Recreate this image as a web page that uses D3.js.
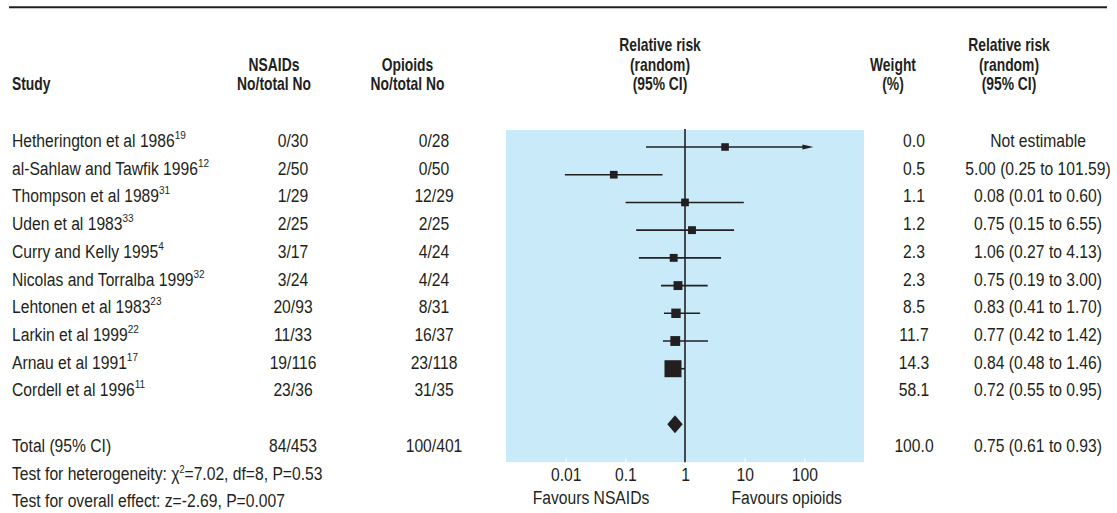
<!DOCTYPE html>
<html>
<head>
<meta charset="utf-8">
<script src="https://cdn.jsdelivr.net/npm/d3@7"></script>
<style>
  html, body { margin: 0; padding: 0; background: #fff; }
  svg text { font-family: 'Liberation Sans', Arial, sans-serif; fill: #231f20; }
</style>
</head>
<body>
<svg id="chart" width="1117" height="513"></svg>
<script>
// ---------- DATA ----------
const studies = [
  'Hetherington et al 1986', 'al-Sahlaw and Tawfik 1996', 'Thompson et al 1989',
  'Uden et al 1983', 'Curry and Kelly 1995', 'Nicolas and Torralba 1999',
  'Lehtonen et al 1983', 'Larkin et al 1999', 'Arnau et al 1991', 'Cordell et al 1996'
];
const refs = ['19', '12', '31', '33', '4', '32', '23', '22', '17', '11'];
const nsaids = ['0/30', '2/50', '1/29', '2/25', '3/17', '3/24', '20/93', '11/33', '19/116', '23/36'];
const opioids = ['0/28', '0/50', '12/29', '2/25', '4/24', '4/24', '8/31', '16/37', '23/118', '31/35'];
const weights = [0.0, 0.5, 1.1, 1.2, 2.3, 2.3, 8.5, 11.7, 14.3, 58.1];
const rrText = [
  'Not estimable', '5.00 (0.25 to 101.59)', '0.08 (0.01 to 0.60)', '0.75 (0.15 to 6.55)',
  '1.06 (0.27 to 4.13)', '0.75 (0.19 to 3.00)', '0.83 (0.41 to 1.70)', '0.77 (0.42 to 1.42)',
  '0.84 (0.48 to 1.46)', '0.72 (0.55 to 0.95)'
];
// values as drawn in the figure (the plot sits one row above its table line)
const plotEst = [null, 4.69, 0.064, 1.0, 1.31, 0.646, 0.763, 0.706, 0.687, 0.629];
const plotLo = [null, 0.222, 0.0097, 0.101, 0.152, 0.169, 0.396, 0.444, 0.427, 0.55];
const plotHi = [null, 142, 0.42, 9.66, 6.64, 4.02, 2.40, 1.79, 2.43, 1.0];

const totalLabel = 'Total (95% CI)';
const totalNsaids = '84/453';
const totalOpioids = '100/401';
const totalWeight = 100.0;
const totalText = '0.75 (0.61 to 0.93)';
const totalEst = 0.68, totalLo = 0.505, totalHi = 0.915;

const tickValues = [0.01, 0.1, 1, 10, 100];
const tickLabels = ['0.01', '0.1', '1', '10', '100'];

// ---------- LAYOUT ----------
const svg = d3.select('#chart');
const ink = '#231f20';
const BODY = 18, BODY_SX = 0.87;   // condensed look via horizontal squeeze
const HEAD = 18, HEAD_SX = 0.77;

const x = d3.scaleLog().domain([0.001, 1000]).range([506, 864]);
const y = d3.scaleLinear().domain([0, 13]).range([147, 507.3]);
const boxSize = d3.scaleLinear().domain([0, 58.1]).range([7.5, 17]);

const col = { study: 12, nsaids: 293, opioids: 434, weight: 914, rr: 1038 };
const head = { nsaids: 274, opioids: 407.5, plot: 660, weight: 893, rr: 1009 };

// condensed text helper: returns the <text> node
function label(px, py, str, opt = {}) {
  const g = svg.append('g')
    .attr('transform', `translate(${px},${py}) scale(${opt.sx || BODY_SX},1)`);
  return g.append('text')
    .attr('text-anchor', opt.anchor || 'start')
    .attr('font-size', opt.size || BODY)
    .attr('font-weight', opt.bold ? 'bold' : null)
    .attr('fill', opt.fill || ink)
    .text(str);
}

// top rule
svg.append('line')
  .attr('x1', 9).attr('x2', 1107).attr('y1', 7.3).attr('y2', 7.3)
  .attr('stroke', ink).attr('stroke-width', 2);

// ---------- HEADERS ----------
const headLines = [
  { x: col.study, anchor: 'start', lines: ['', '', 'Study'] },
  { x: head.nsaids, anchor: 'middle', lines: ['', 'NSAIDs', 'No/total No'] },
  { x: head.opioids, anchor: 'middle', lines: ['', 'Opioids', 'No/total No'] },
  { x: head.plot, anchor: 'middle', lines: ['Relative risk', '(random)', '(95% CI)'] },
  { x: head.weight, anchor: 'middle', lines: ['', 'Weight', '(%)'] },
  { x: head.rr, anchor: 'middle', lines: ['Relative risk', '(random)', '(95% CI)'] }
];
const headBase = [50.5, 70.5, 90];
headLines.forEach((h) => {
  h.lines.forEach((t, i) => {
    if (!t) return;
    label(h.x, headBase[i], t, { anchor: h.anchor, bold: true, size: HEAD, sx: HEAD_SX });
  });
});

// ---------- PLOT BACKGROUND ----------
const plotTop = y(0) - 17;
const plotBottom = y(11) + 10.3;
svg.append('rect')
  .attr('x', x.range()[0]).attr('y', plotTop)
  .attr('width', x.range()[1] - x.range()[0])
  .attr('height', plotBottom - plotTop)
  .attr('fill', '#c8eaf9');

// axis
const axis = svg.append('g')
  .attr('transform', `translate(0,${plotBottom})`)
  .call(d3.axisBottom(x).tickValues(tickValues)
    .tickFormat((d, i) => tickLabels[i])
    .tickSize(-4).tickPadding(6));
axis.select('.domain').remove();
axis.selectAll('.tick line').attr('stroke', '#fff').attr('stroke-width', 1.2);
axis.selectAll('.tick text')
  .attr('font-size', BODY)
  .attr('transform', `scale(${BODY_SX},1)`)
  .style('font-family', "'Liberation Sans', Arial, sans-serif")
  .attr('fill', '#333');

label(591, 503.5, 'Favours NSAIDs', { anchor: 'middle', fill: '#333' });
label(786.7, 503.5, 'Favours opioids', { anchor: 'middle', fill: '#333' });

// ---------- TABLE ----------
studies.forEach((name, i) => {
  const t = label(col.study, y(i), name);
  t.append('tspan').attr('font-size', 11.5).attr('dy', -8).text(refs[i]);
  label(col.nsaids, y(i), nsaids[i], { anchor: 'middle' });
  label(col.opioids, y(i), opioids[i], { anchor: 'middle' });
  label(col.weight, y(i), weights[i].toFixed(1), { anchor: 'middle' });
  label(col.rr, y(i), rrText[i], { anchor: 'middle' });
});

// total row
const totalRow = 11;
label(col.study, y(totalRow), totalLabel);
label(col.nsaids, y(totalRow), totalNsaids, { anchor: 'middle' });
label(col.opioids, y(totalRow), totalOpioids, { anchor: 'middle' });
label(col.weight, y(totalRow), totalWeight.toFixed(1), { anchor: 'middle' });
label(col.rr, y(totalRow), totalText, { anchor: 'middle' });

// tests
const het = label(col.study, y(12), 'Test for heterogeneity: χ');
het.append('tspan').attr('font-size', 10.5).attr('dy', -7).text('2');
het.append('tspan').attr('dy', 7).text('=7.02, df=8, P=0.53');
label(col.study, y(13), 'Test for overall effect: z=-2.69, P=0.007');

// ---------- FOREST MARKS ----------
const plotRows = d3.range(studies.length).filter((i) => plotEst[i] != null);

// reference line at 1
svg.append('line')
  .attr('x1', x(1)).attr('x2', x(1)).attr('y1', plotTop - 1).attr('y2', plotBottom)
  .attr('stroke', '#464a4d').attr('stroke-width', 2);

const g = svg.append('g');
g.selectAll('line.ci')
  .data(plotRows)
  .join('line')
  .attr('class', 'ci')
  .attr('x1', (i) => x(plotLo[i]))
  .attr('x2', (i) => x(plotHi[i]) - (plotHi[i] > 100 ? 8 : 0))
  .attr('y1', (i) => y(i - 1))
  .attr('y2', (i) => y(i - 1))
  .attr('stroke', ink)
  .attr('stroke-width', 1.6);

// arrow for CI beyond the plotted range
g.selectAll('path.arrow')
  .data(plotRows.filter((i) => plotHi[i] > 100))
  .join('path')
  .attr('class', 'arrow')
  .attr('d', (i) => {
    const xe = x(plotHi[i]);
    const yy = y(i - 1);
    return `M${xe - 11},${yy - 2.5}L${xe},${yy}L${xe - 11},${yy + 2.5}Z`;
  })
  .attr('fill', ink);

g.selectAll('rect.box')
  .data(plotRows)
  .join('rect')
  .attr('class', 'box')
  .attr('x', (i) => x(plotEst[i]) - boxSize(weights[i]) / 2)
  .attr('y', (i) => y(i - 1) - boxSize(weights[i]) / 2)
  .attr('width', (i) => boxSize(weights[i]))
  .attr('height', (i) => boxSize(weights[i]))
  .attr('fill', ink);

// pooled diamond
const yd = y(totalRow - 1);
g.append('path')
  .attr('d', `M${x(totalLo)},${yd}L${x(totalEst)},${yd - 9}L${x(totalHi)},${yd}L${x(totalEst)},${yd + 9}Z`)
  .attr('fill', ink);
</script>
</body>
</html>
